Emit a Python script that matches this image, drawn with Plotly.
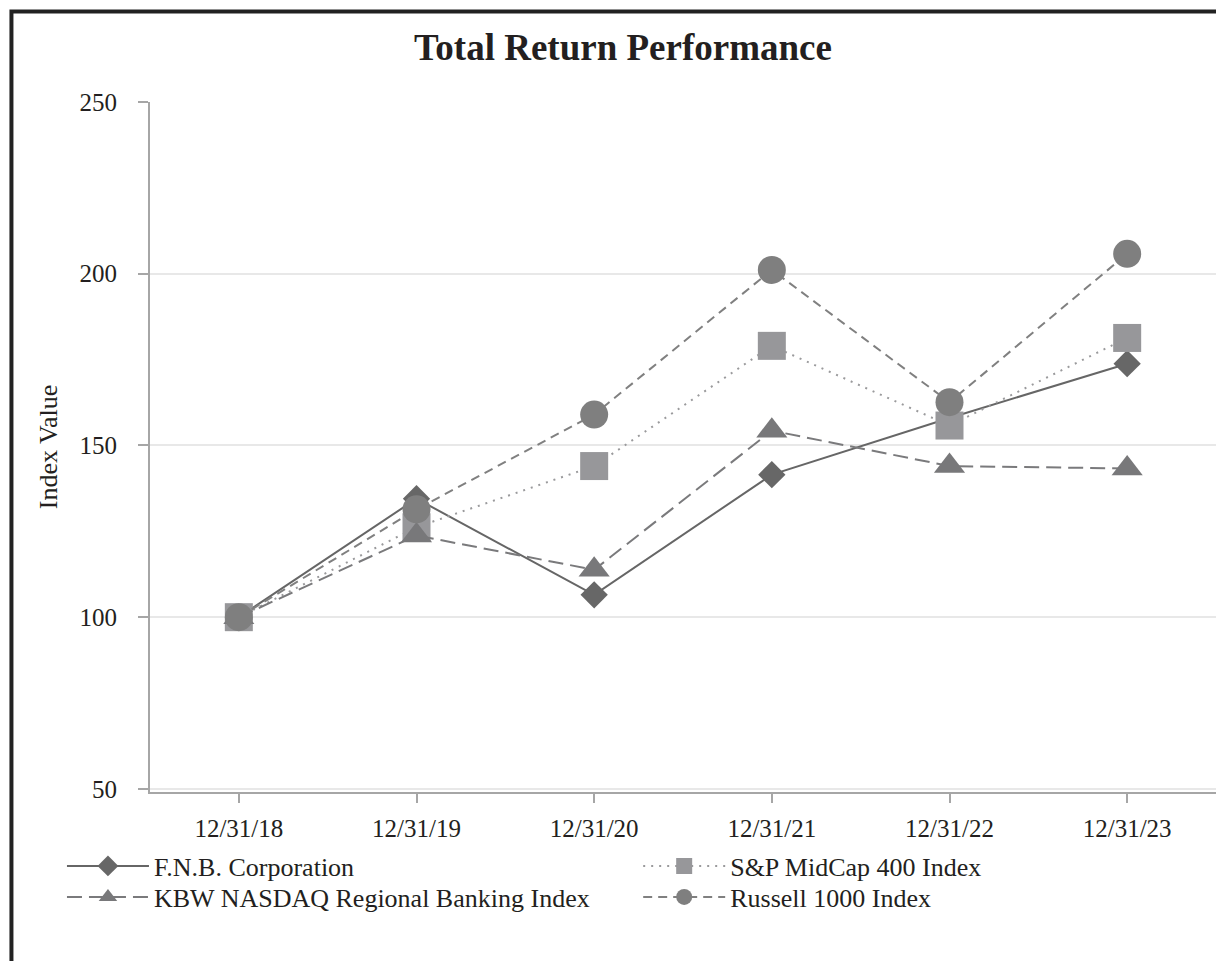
import plotly.graph_objects as go

dates = ["12/31/18", "12/31/19", "12/31/20", "12/31/21", "12/31/22", "12/31/23"]
fnb = [100, 134.5, 106.5, 141.5, 158.0, 173.8]
kbw = [100, 123.8, 113.8, 154.3, 144.0, 143.3]
sp400 = [100, 126.2, 144.0, 179.0, 155.8, 181.3]
russell = [100, 131.4, 159.0, 201.1, 162.6, 205.8]
y_ticks = [50, 100, 150, 200, 250]

FONT = "Liberation Serif, Times New Roman, serif"
TXT = "#231f20"

# page body has an 8px margin; positions below are in screen pixels
OFF = 8
W, H = 1224, 961
L = 150 - OFF
T = 102 - OFF
R = W - (1215.6 - OFF)
B = H - (792 - OFF)
pw, ph = W - L - R, H - T - B


def sx(p):
    return (p - OFF - L) / pw


def sy(p):
    return (H - B - (p - OFF)) / ph


fig = go.Figure()
fig.add_trace(go.Scatter(
    x=dates, y=fnb, name="F.N.B. Corporation", mode="lines+markers",
    line=dict(color="#666666", width=2),
    marker=dict(symbol="diamond", size=21, color="#676767"), legend="legend"))
fig.add_trace(go.Scatter(
    x=dates, y=sp400, name="S&P MidCap 400 Index", mode="lines+markers",
    line=dict(color="#9a9a9c", width=2, dash="2px,6px"),
    marker=dict(symbol="square", size=28, color="#97979a"), legend="legend2"))
fig.add_trace(go.Scatter(
    x=dates, y=kbw, name="KBW NASDAQ Regional Banking Index", mode="lines+markers",
    line=dict(color="#7a7a7c", width=2, dash="15px,7px"),
    marker=dict(symbol="triangle-up", size=27, color="#78787a"), legend="legend3"))
fig.add_trace(go.Scatter(
    x=dates, y=russell, name="Russell 1000 Index", mode="lines+markers",
    line=dict(color="#808080", width=2, dash="9px,6px"),
    marker=dict(symbol="circle", size=28, color="#7f7f7f"), legend="legend4"))


def leg(xp, yp):
    return dict(orientation="v", x=sx(xp), xanchor="left", y=sy(yp), yanchor="middle",
                itemwidth=82, font=dict(family=FONT, size=26, color=TXT),
                bgcolor="rgba(0,0,0,0)", borderwidth=0)


fig.update_layout(
    width=W, height=H,
    margin=dict(l=L, r=R, t=T, b=B, autoexpand=False),
    paper_bgcolor="white", plot_bgcolor="white",
    font=dict(family=FONT, size=26, color=TXT),
    title=dict(text="<b>Total Return Performance</b>", x=(623 - OFF) / W, xref="container",
               xanchor="center", y=1 - (47 - OFF) / H, yref="container", yanchor="middle",
               font=dict(family=FONT, size=37, color=TXT)),
    xaxis=dict(type="category", range=[-0.5, 5.5], showgrid=False, zeroline=False,
               showline=True, linecolor="#a6a6a6", linewidth=2,
               ticks="outside", ticklen=9, tickwidth=2, tickcolor="#a6a6a6",
               ticklabelstandoff=4, tickfont=dict(size=25)),
    yaxis=dict(range=[49.1, 250], tickvals=y_ticks, showgrid=True, gridcolor="#e8e8e8",
               gridwidth=2, zeroline=False, showline=True, linecolor="#a6a6a6", linewidth=2,
               ticks="outside", ticklen=10, tickwidth=2, tickcolor="#a6a6a6",
               ticklabelstandoff=16, tickfont=dict(size=25),
               title=dict(text="Index Value", font=dict(size=26), standoff=14)),
    legend=leg(62, 866),
    legend2=leg(638, 866),
    legend3=leg(62, 897),
    legend4=leg(638, 897),
    showlegend=True,
)

fig.add_shape(type="rect", xref="paper", yref="paper",
              x0=sx(11.5), x1=sx(1300), y0=sy(1050), y1=sy(11.5),
              line=dict(color="#222222", width=4), fillcolor="rgba(0,0,0,0)", layer="above")

fig.write_html("out.html")
